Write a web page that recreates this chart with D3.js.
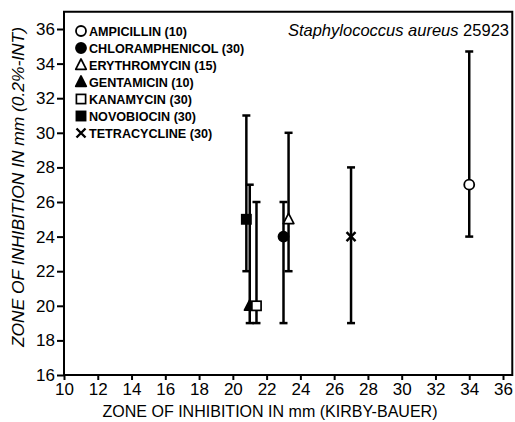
<!DOCTYPE html>
<html>
<head>
<meta charset="utf-8">
<script src="https://cdn.jsdelivr.net/npm/d3@7"></script>
<style>
  body { margin: 0; background: #fff; }
  svg text { font-family: "Liberation Sans", Arial, sans-serif; fill: #000; }
</style>
</head>
<body>
<div id="chart"></div>
<script>
// antibiotics, disc potency in brackets
const drugs = ["AMPICILLIN (10)", "CHLORAMPHENICOL (30)", "ERYTHROMYCIN (15)", "GENTAMICIN (10)",
               "KANAMYCIN (30)", "NOVOBIOCIN (30)", "TETRACYCLINE (30)"];
const symbols = ["circleOpen", "circle", "triangleOpen", "triangle", "squareOpen", "square", "cross"];
// kirby-bauer zone (x) and 0.2%-INT zone (y) with range
const kirbyBauer = [34, 23, 23.3, 21, 21.4, 20.8, 27];
const intZone = [27, 24, 25, 20, 20, 25, 24];
const intLow = [24, 19, 22, 19, 19, 22, 19];
const intHigh = [34.7, 26, 30, 27, 26, 31, 28];

const xTicks = [10, 12, 14, 16, 18, 20, 22, 24, 26, 28, 30, 32, 34, 36];
const yTicks = [16, 18, 20, 22, 24, 26, 28, 30, 32, 34, 36];

const width = 515, height = 422;

const svg = d3.select("#chart").append("svg")
    .attr("width", width).attr("height", height);

const x = d3.scaleLinear().domain([10, 36]).range([64, 503]);
const y = d3.scaleLinear().domain([16, 36]).range([375, 29]);

// frame
svg.append("path")
    .attr("d", `M${x(10)},${y(16)} V${y(37)} H${x(36.55)} V${y(16)} Z`)
    .attr("fill", "none").attr("stroke", "#000").attr("stroke-width", 2);

// axes
const xAxis = svg.append("g")
    .attr("transform", `translate(0,${y(16)})`)
    .call(d3.axisBottom(x).tickValues(xTicks).tickSize(5).tickPadding(3).tickSizeOuter(0));
const yAxis = svg.append("g")
    .attr("transform", `translate(${x(10)},0)`)
    .call(d3.axisLeft(y).tickValues(yTicks).tickSize(7).tickPadding(2).tickSizeOuter(0));

for (let ax of [xAxis, yAxis]) {
    ax.select(".domain").remove();
    ax.selectAll("line").attr("stroke", "#000").attr("stroke-width", 2);
    ax.selectAll("text").attr("font-size", 17).attr("font-family", "Liberation Sans, Arial, sans-serif");
}

// axis titles
svg.append("text")
    .attr("x", 270).attr("y", 417)
    .attr("text-anchor", "middle").attr("font-size", 16.5)
    .attr("textLength", 335).attr("lengthAdjust", "spacingAndGlyphs")
    .text("ZONE OF INHIBITION IN mm  (KIRBY-BAUER)");

svg.append("text")
    .attr("transform", `translate(24,187) rotate(-90)`)
    .attr("text-anchor", "middle").attr("font-size", 16).attr("font-style", "italic")
    .attr("textLength", 320).attr("lengthAdjust", "spacingAndGlyphs")
    .text("ZONE OF INHIBITION IN mm (0.2%-INT)");

// organism title
const title = svg.append("text")
    .attr("x", 509).attr("y", 36)
    .attr("text-anchor", "end").attr("font-size", 16.5);
title.append("tspan").attr("font-style", "italic").text("Staphylococcus aureus ");
title.append("tspan").text("25923");

// marker drawing
function drawSymbol(g, type, cx, cy) {
    const open = type.endsWith("Open");
    const fill = open ? "#fff" : "#000";
    const base = type.replace("Open", "");
    if (base === "circle") {
        g.append("circle").attr("cx", cx).attr("cy", cy).attr("r", 5)
            .attr("fill", fill).attr("stroke", "#000").attr("stroke-width", 1.8);
    } else if (base === "triangle") {
        g.append("path")
            .attr("d", `M${cx},${cy - 6} L${cx + 5.3},${cy + 4.3} L${cx - 5.3},${cy + 4.3} Z`)
            .attr("fill", fill).attr("stroke", "#000").attr("stroke-width", 1.7)
            .attr("stroke-linejoin", "round");
    } else if (base === "square") {
        g.append("rect").attr("x", cx - 4.6).attr("y", cy - 4.6).attr("width", 9.2).attr("height", 9.2)
            .attr("fill", fill).attr("stroke", "#000").attr("stroke-width", 1.7);
    } else if (base === "cross") {
        g.append("path")
            .attr("d", `M${cx - 4.5},${cy - 4.5} L${cx + 4.5},${cy + 4.5} M${cx + 4.5},${cy - 4.5} L${cx - 4.5},${cy + 4.5}`)
            .attr("stroke", "#000").attr("stroke-width", 2.4);
    }
}

// error bars
const bars = svg.append("g");
drugs.forEach((d, i) => {
    const cx = x(kirbyBauer[i]);
    bars.append("line")
        .attr("x1", cx).attr("x2", cx)
        .attr("y1", y(intLow[i])).attr("y2", y(intHigh[i]))
        .attr("stroke", "#000").attr("stroke-width", 2.5);
    for (let v of [intLow[i], intHigh[i]]) {
        bars.append("line")
            .attr("x1", cx - 4).attr("x2", cx + 4)
            .attr("y1", y(v)).attr("y2", y(v))
            .attr("stroke", "#000").attr("stroke-width", 2.5);
    }
});

// points
const points = svg.append("g");
drugs.forEach((d, i) => {
    drawSymbol(points, symbols[i], x(kirbyBauer[i]), y(intZone[i]));
});

// legend
const legend = svg.append("g");
drugs.forEach((d, i) => {
    const ly = 31 + i * 17;
    drawSymbol(legend, symbols[i], 81, ly);
    legend.append("text")
        .attr("x", 89).attr("y", ly + 4.8)
        .attr("font-size", 12.6).attr("font-weight", "bold")
        .text(d);
});
</script>
</body>
</html>
